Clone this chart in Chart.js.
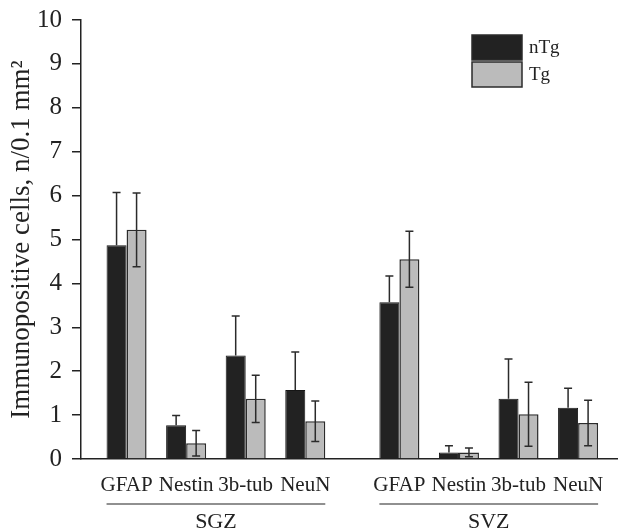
<!DOCTYPE html>
<html>
<head>
<meta charset="utf-8">
<script src="https://cdn.jsdelivr.net/npm/chart.js@4.4.1/dist/chart.umd.min.js"></script>
<style>
  html, body { margin: 0; padding: 0; background: #fff; }
  #wrap { width: 618px; height: 529px; }
</style>
</head>
<body>
<div id="wrap"><canvas id="cells-chart"></canvas></div>
<script>
// data
var markers = ['GFAP', 'Nestin', '3b-tub', 'NeuN'];
var regions = ['SGZ', 'SVZ'];
var nTgValues = [4.87, 0.77, 2.36, 1.57, 3.57, 0.15, 1.37, 1.17];
var nTgErrors = [1.20, 0.22, 0.90, 0.87, 0.60, 0.15, 0.91, 0.44];
var tgValues  = [5.22, 0.36, 1.37, 0.86, 4.55, 0.15, 1.02, 0.82];
var tgErrors  = [0.84, 0.29, 0.54, 0.46, 0.64, 0.10, 0.73, 0.52];
var yTicks = [0, 1, 2, 3, 4, 5, 6, 7, 8, 9, 10];

// second region starts a bit further right than one category step
var regionStep = 4.58;
var xPos = [];
regions.forEach(function (r, g) {
    markers.forEach(function (m, i) { xPos.push(1 + g * regionStep + i); });
});

var serif = 'Liberation Serif';
var ink = '#222';

function points(values) {
    return values.map(function (v, i) { return { x: xPos[i], y: v }; });
}

var errorBars = {
    id: 'errorBars',
    afterDatasetsDraw: function (chart) {
        var ctx = chart.ctx, y = chart.scales.y;
        var errs = [nTgErrors, tgErrors];
        ctx.save();
        ctx.strokeStyle = '#2b2b2b';
        ctx.lineWidth = 1.5;
        chart.data.datasets.forEach(function (ds, d) {
            chart.getDatasetMeta(d).data.forEach(function (bar, i) {
                var v = ds.data[i].y, e = errs[d][i];
                var top = y.getPixelForValue(v + e);
                // lower half of the dark bars' whiskers disappears into the bar
                var bot = d === 0 ? y.getPixelForValue(v) : y.getPixelForValue(Math.max(0, v - e));
                ctx.beginPath();
                ctx.moveTo(bar.x, top); ctx.lineTo(bar.x, bot);
                ctx.moveTo(bar.x - 4, top); ctx.lineTo(bar.x + 4, top);
                if (d !== 0) { ctx.moveTo(bar.x - 4, bot); ctx.lineTo(bar.x + 4, bot); }
                ctx.stroke();
            });
        });
        ctx.restore();
    }
};

var groupLabels = {
    id: 'groupLabels',
    afterDraw: function (chart) {
        var ctx = chart.ctx, x = chart.scales.x;
        var half = chart.getDatasetMeta(0).data[0].width;
        ctx.save();
        ctx.strokeStyle = ink;
        ctx.fillStyle = ink;
        ctx.lineWidth = 1.2;
        ctx.font = '22px "' + serif + '"';
        ctx.textAlign = 'center';
        ctx.textBaseline = 'middle';
        regions.forEach(function (r, g) {
            var first = x.getPixelForValue(xPos[g * markers.length]) - half;
            var last = x.getPixelForValue(xPos[g * markers.length + markers.length - 1]) + half;
            ctx.beginPath();
            ctx.moveTo(first, 504); ctx.lineTo(last, 504);
            ctx.stroke();
            ctx.fillText(r, (first + last) / 2, 522);
        });

        // legend, top right
        var lx = chart.chartArea.right - 146, ly = chart.chartArea.top + 15;
        ctx.font = '19px "' + serif + '"';
        ctx.textAlign = 'left';
        chart.data.datasets.forEach(function (ds, d) {
            var by = ly + d * 27;
            ctx.fillStyle = ds.backgroundColor;
            ctx.fillRect(lx, by, 50, 25);
            ctx.strokeStyle = '#2b2b2b';
            ctx.lineWidth = 1.5;
            ctx.strokeRect(lx, by, 50, 25);
            ctx.fillStyle = ink;
            ctx.fillText(ds.label, lx + 57, by + 13);
        });
        ctx.restore();
    }
};

var ctx = document.getElementById('cells-chart').getContext('2d');
var myChart = new Chart(ctx, {
    type: 'bar',
    data: {
        datasets: [{
            label: 'nTg',
            data: points(nTgValues),
            backgroundColor: '#222222',
            borderColor: '#161616',
            borderWidth: 1
        }, {
            label: 'Tg',
            data: points(tgValues),
            backgroundColor: '#bbbbbb',
            borderColor: '#2b2b2b',
            borderWidth: 1.5
        }]
    },
    options: {
        responsive: true,
        maintainAspectRatio: false,
        animation: false,
        categoryPercentage: 0.672,
        barPercentage: 1,
        layout: { padding: { top: 20, right: 0, bottom: 0, left: 0 } },
        plugins: {
            legend: { display: false },
            tooltip: { enabled: false }
        },
        scales: {
            x: {
                type: 'linear',
                offset: false,
                min: 0.235,
                max: 9.25,
                afterBuildTicks: function (axis) {
                    axis.ticks = xPos.map(function (v) { return { value: v }; });
                },
                afterFit: function (axis) { axis.height = 70; },
                grid: { display: true, drawOnChartArea: false, drawTicks: false },
                border: { color: ink, width: 1.5 },
                ticks: {
                    autoSkip: false,
                    maxRotation: 0,
                    padding: 8,
                    color: ink,
                    font: { family: serif, size: 21, lineHeight: 1.8 },
                    callback: function (value, index) { return markers[index % markers.length]; }
                }
            },
            y: {
                min: 0,
                max: 10,
                afterBuildTicks: function (axis) {
                    axis.ticks = yTicks.map(function (v) { return { value: v }; });
                },
                afterFit: function (axis) { axis.width = 81; },
                grid: { drawOnChartArea: false, tickLength: 9, color: ink, lineWidth: 1.5 },
                border: { color: ink, width: 1.5 },
                ticks: {
                    padding: 10,
                    color: ink,
                    font: { family: serif, size: 25, lineHeight: 0.8 }
                },
                title: {
                    display: true,
                    text: 'Immunopositive cells, n/0.1 mm\u00b2',
                    color: ink,
                    font: { family: serif, size: 27 },
                    padding: { top: 6, bottom: 0 }
                }
            }
        }
    },
    plugins: [errorBars, groupLabels]
});
</script>
</body>
</html>
